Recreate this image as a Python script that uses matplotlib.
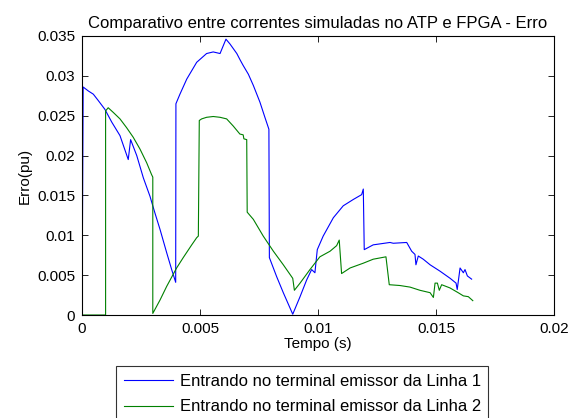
import matplotlib
matplotlib.use("Agg")
import matplotlib.pyplot as plt

plt.rcParams['font.family'] = ['Liberation Sans', 'DejaVu Sans']

# Erro da corrente entrando no terminal emissor da Linha 1 (pu)
t_linha1 = [0.0, 0.00005, 0.00027, 0.00048, 0.00069, 0.00097, 0.00126, 0.00161,
            0.00196, 0.00206, 0.00232, 0.0026, 0.00288, 0.00309, 0.00331, 0.00359,
            0.0038, 0.00397, 0.00398, 0.00415, 0.00444, 0.00486, 0.00528, 0.00556,
            0.00585, 0.0061, 0.00627, 0.00656, 0.0067, 0.00683, 0.00705, 0.00726,
            0.00754, 0.00775, 0.00792, 0.00794, 0.00825, 0.00853, 0.00893, 0.00924,
            0.00952, 0.00973, 0.00987, 0.00997, 0.01022, 0.01065, 0.01107, 0.0115,
            0.01185, 0.01192, 0.01196, 0.01234, 0.01305, 0.01319, 0.01376, 0.01397,
            0.01411, 0.01415, 0.01425, 0.01446, 0.01475, 0.01517, 0.0156, 0.01585,
            0.0159, 0.01602, 0.01616, 0.01623, 0.01633, 0.01651]
erro_linha1 = [0.0, 0.0286, 0.0281, 0.0277, 0.0269, 0.0258, 0.0242, 0.0225,
               0.0195, 0.0220, 0.0200, 0.0172, 0.0149, 0.0128, 0.0107, 0.0078,
               0.0057, 0.0041, 0.0265, 0.0277, 0.0296, 0.0317, 0.0328, 0.0330,
               0.0328, 0.0346, 0.0340, 0.0328, 0.0320, 0.0313, 0.0302, 0.0288,
               0.0267, 0.0248, 0.0233, 0.0072, 0.0048, 0.0028, 0.0001, 0.0023,
               0.0044, 0.0057, 0.0053, 0.0082, 0.0099, 0.0122, 0.0137, 0.0145,
               0.0151, 0.0158, 0.0082, 0.0088, 0.0091, 0.0090, 0.0091, 0.0080,
               0.0076, 0.0063, 0.0074, 0.0070, 0.0063, 0.0055, 0.0046, 0.0040,
               0.0032, 0.0059, 0.0053, 0.0057, 0.0049, 0.0045]

# Erro da corrente entrando no terminal emissor da Linha 2 (pu)
t_linha2 = [0.0, 0.001, 0.001, 0.00111, 0.00133, 0.00161, 0.00189, 0.00217,
            0.00246, 0.00274, 0.00295, 0.003, 0.003, 0.00331, 0.00359, 0.00401,
            0.00429, 0.00465, 0.00486, 0.00493, 0.00497, 0.00507, 0.00528, 0.00556,
            0.00585, 0.00613, 0.00641, 0.00669, 0.00683, 0.00686, 0.00698, 0.007,
            0.00726, 0.00768, 0.00811, 0.00853, 0.00893, 0.009, 0.00924, 0.00966,
            0.01008, 0.01051, 0.01079, 0.0109, 0.011, 0.01136, 0.01192, 0.01234,
            0.01288, 0.01302, 0.01347, 0.0139, 0.01432, 0.01475, 0.01489, 0.01496,
            0.01506, 0.01514, 0.01524, 0.01559, 0.01594, 0.01616, 0.01637, 0.01656]
erro_linha2 = [0.0, 0.0, 0.0256, 0.0260, 0.0254, 0.0246, 0.0235, 0.0223,
               0.0208, 0.0191, 0.0176, 0.0173, 0.0002, 0.0019, 0.0036, 0.0059,
               0.0072, 0.0088, 0.0097, 0.0099, 0.0244, 0.0246, 0.0248, 0.0249,
               0.0248, 0.0246, 0.0237, 0.0227, 0.0226, 0.0221, 0.0220, 0.0129,
               0.0120, 0.0099, 0.0080, 0.0063, 0.0046, 0.0031, 0.0040, 0.0057,
               0.0073, 0.0080, 0.0087, 0.0094, 0.0052, 0.0059, 0.0065, 0.0070,
               0.0073, 0.0038, 0.0037, 0.0035, 0.0031, 0.0028, 0.0022, 0.0040,
               0.0040, 0.0031, 0.0038, 0.0034, 0.0028, 0.0024, 0.0023, 0.0018]

legendas = ['Entrando no terminal emissor da Linha 1',
            'Entrando no terminal emissor da Linha 2']

x_ticks = [0, 0.005, 0.01, 0.015, 0.02]
x_labels = ['0', '0.005', '0.01', '0.015', '0.02']
y_ticks = [0, 0.005, 0.01, 0.015, 0.02, 0.025, 0.03, 0.035]
y_labels = ['0', '0.005', '0.01', '0.015', '0.02', '0.025', '0.03', '0.035']

fig = plt.figure(figsize=(5.71, 4.18), dpi=100)
ax = fig.add_axes([0.1436, 0.2464, 0.8266, 0.6675])

l1, = ax.plot(t_linha1, erro_linha1, color='#0000ff', linewidth=0.8)
l2, = ax.plot(t_linha2, erro_linha2, color='#008000', linewidth=0.8)

ax.set_xlim(0, 0.02)
ax.set_ylim(0, 0.035)
ax.set_xticks(x_ticks, x_labels)
ax.set_yticks(y_ticks, y_labels)
ax.tick_params(direction='in', length=4, width=0.6, top=True, right=True,
               labelsize=11, pad=5)
for s in ax.spines.values():
    s.set_linewidth(0.8)

ax.set_title('Comparativo entre correntes simuladas no ATP e FPGA - Erro',
             fontsize=12, pad=6)
ax.set_xlabel('Tempo (s)', fontsize=11, labelpad=1)
ax.set_ylabel('Erro(pu)', fontsize=11, labelpad=4)

leg = fig.legend([l1, l2], legendas, loc='upper left',
                 bbox_to_anchor=(116 / 571, 1 - 366 / 418),
                 fontsize=12, frameon=True, fancybox=False, shadow=False,
                 handlelength=2.95, handletextpad=0.42, borderpad=0.45,
                 labelspacing=0.65, borderaxespad=0)
leg.get_frame().set_edgecolor('black')
leg.get_frame().set_linewidth(0.8)

fig.savefig('out.png', dpi=100)
